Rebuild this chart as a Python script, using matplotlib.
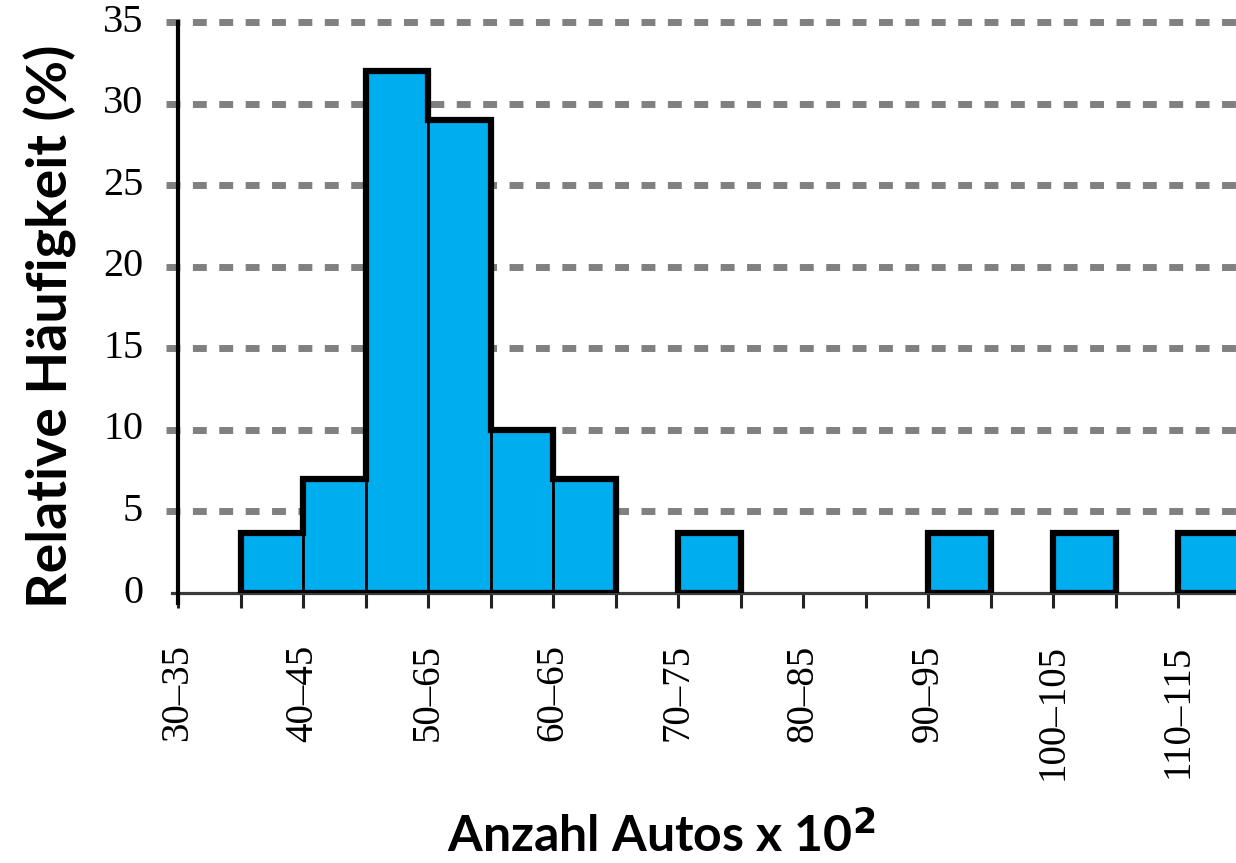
import matplotlib
matplotlib.use("Agg")
import matplotlib.pyplot as plt
import numpy as np

# ---- data ----
bin_left = [35, 40, 45, 50, 55, 60, 65, 70, 75, 80, 85, 90, 95, 100, 105, 110]
rel_freq = [3.7, 7, 32, 29, 10, 7, 0, 3.7, 0, 0, 0, 3.7, 0, 3.7, 0, 3.7]
tick_pos = [30, 40, 50, 60, 70, 80, 90, 100, 110]
tick_labels = ["30–35", "40–45", "50–65", "60–65", "70–75", "80–85",
               "90–95", "100–105", "110–115"]
y_ticks = [0, 5, 10, 15, 20, 25, 30, 35]
bin_width = 5

W, H = 1236, 863
fig = plt.figure(figsize=(W / 100, H / 100), dpi=100)
ax = fig.add_axes([178 / W, (H - 593) / H, (W - 178) / W, (593 - 22) / H])

ax.set_xlim(30, 30 + (W - 178) / 12.5)
ax.set_ylim(0, 35)

# gridlines (dashed grey, extending slightly left of spine)
for yv in y_ticks[1:]:
    ax.axhline(yv, xmin=-0.011, xmax=1, color="#808080", lw=5,
               linestyle=(0, (2.0, 1.8)), zorder=1, clip_on=False)

# bars
ax.bar(bin_left, rel_freq, width=bin_width, align="edge", color="#00AEEF",
       edgecolor="black", linewidth=2, zorder=2)

# thick outline around each contiguous group of bars
vals = np.array(rel_freq)
lefts = np.array(bin_left)
i = 0
n = len(vals)
while i < n:
    if vals[i] > 0:
        j = i
        while j + 1 < n and vals[j + 1] > 0:
            j += 1
        edges = np.append(lefts[i:j + 1], lefts[j] + bin_width)
        ax.stairs(vals[i:j + 1], edges, baseline=0, fill=False,
                  color="black", lw=4.5, zorder=3)
        ax.hlines(0, edges[0], edges[-1], color="black", lw=4.5, zorder=3)
        i = j + 1
    else:
        i += 1

# spines
for s in ["top", "right"]:
    ax.spines[s].set_visible(False)
ax.spines["left"].set_color("black")
ax.spines["left"].set_linewidth(3)
ax.spines["left"].set_bounds(-0.6, 35)
ax.spines["bottom"].set_color("#3a3a3a")
ax.spines["bottom"].set_linewidth(2.3)
ax.spines["bottom"].set_bounds(29.5, 120)
ax.spines["left"].set_zorder(4)

# x ticks
xt = list(range(30, 115, 5))
ax.set_xticks(xt)
lab = []
for v in xt:
    lab.append(tick_labels[tick_pos.index(v)] if v in tick_pos else "")
ax.set_xticklabels(lab, rotation=90, va="top", ha="center",
                   family="Liberation Serif", fontsize=28)
ax.tick_params(axis="x", direction="out", length=11, width=2.2,
               color="#222222", pad=26)

# y ticks
ax.set_yticks(y_ticks)
ax.set_yticklabels([str(v) for v in y_ticks], family="Liberation Serif",
                   fontsize=29, va="center")
ax.tick_params(axis="y", length=0, pad=25)

ax.set_ylabel("Relative Häufigkeit (%)", family="Lato", fontweight="bold",
              fontsize=40)
ax.yaxis.set_label_coords(-101 / (W - 178), 0.467)

fig.text(0.535, 0.004, "Anzahl Autos x 10$^{\\mathbf{2}}$", family="Lato",
         fontweight="bold", fontsize=36, ha="center", va="bottom")

fig.savefig("out.png", dpi=100)
